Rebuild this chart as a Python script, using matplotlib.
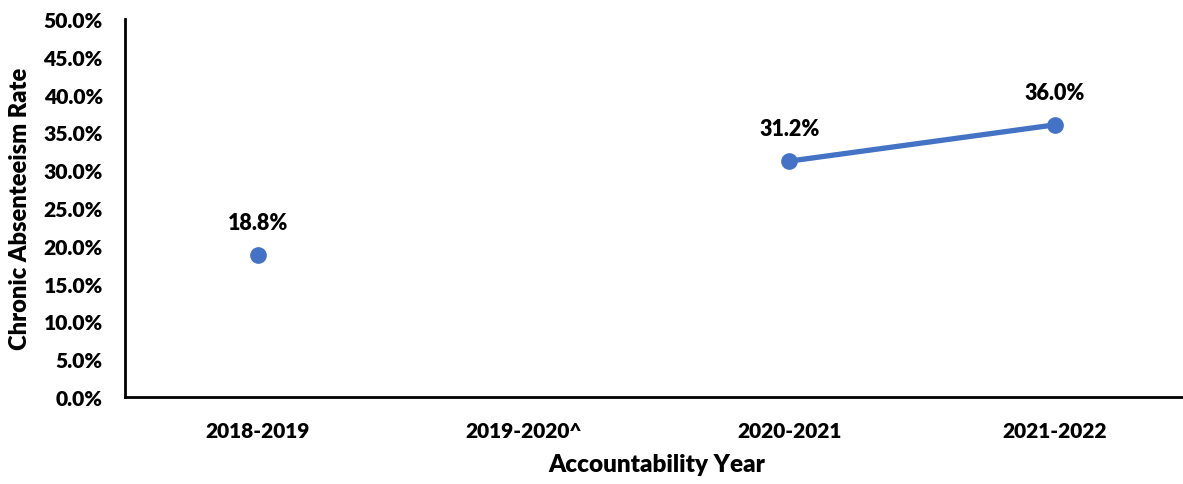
import matplotlib
matplotlib.use("Agg")
import matplotlib.pyplot as plt
import matplotlib.ticker as mticker
import numpy as np

# Data
# -----
years = ['2018-2019', '2019-2020^', '2020-2021', '2021-2022']
rates = [18.8, np.nan, 31.2, 36.0]
yticks = np.arange(0, 55, 5)

plt.rcParams['font.family'] = ['Lato', 'DejaVu Sans']
plt.rcParams['font.weight'] = 'heavy'
wt = 'heavy'

fig = plt.figure(figsize=(11.83, 4.85), dpi=100)
ax = fig.add_axes([0.1057, 0.1794, 0.8985, 0.7794])

x = np.arange(len(years))
ax.plot(x, rates, color='#4472C4', linewidth=3.8, marker='o',
        markersize=11, solid_capstyle='round')

for xi, r in zip(x, rates):
    if np.isnan(r):
        continue
    ax.annotate(f"{r:.1f}%", (xi, r), xytext=(0, 16), textcoords='offset points',
                ha='center', va='bottom', fontsize=15.5, fontweight=wt)

ax.set_xlim(-0.5, 3.5)
ax.set_ylim(0, 50)
ax.set_xticks(x)
ax.set_xticklabels(years)
ax.set_yticks(yticks)
ax.yaxis.set_major_formatter(mticker.FuncFormatter(lambda v, p: f"{v:.1f}%"))
ax.tick_params(axis='both', length=0)
ax.tick_params(axis='y', pad=16, labelsize=15.2)
ax.tick_params(axis='x', pad=17, labelsize=15)
for lab in ax.get_xticklabels() + ax.get_yticklabels():
    lab.set_fontweight(wt)

ax.spines['top'].set_visible(False)
ax.spines['right'].set_visible(False)
ax.spines['left'].set_linewidth(2)
ax.spines['bottom'].set_linewidth(2)

ax.set_xlabel('Accountability Year', fontsize=17.5, fontweight=wt, labelpad=10)
ax.set_ylabel('Chronic Absenteeism Rate', fontsize=17, fontweight=wt, labelpad=9)

plt.savefig('out.png', dpi=100)
